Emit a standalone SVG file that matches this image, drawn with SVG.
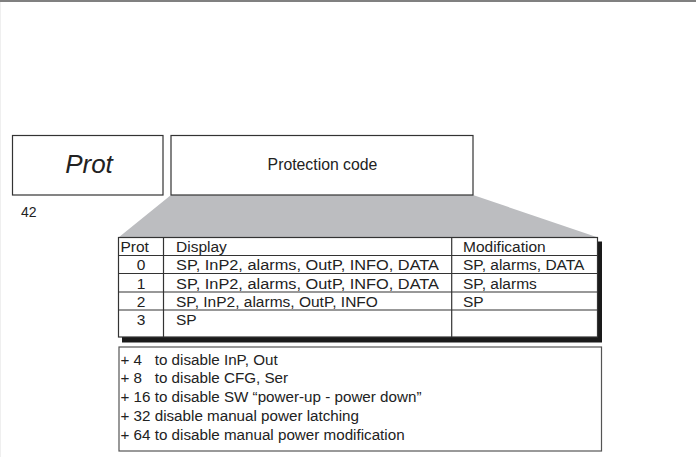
<svg xmlns="http://www.w3.org/2000/svg" width="696" height="457" viewBox="0 0 696 457">
<style>
text{font-family:"Liberation Sans",Arial,sans-serif;fill:#222;}
.box{fill:#fff;stroke:#333;stroke-width:1.2;}
.t{font-size:15.5px;}
.n{font-size:15.5px;text-anchor:middle;}
.ln{stroke:#333;stroke-width:1.2;fill:none;}
.ft{font-size:15.2px;}
</style>
<rect x="0" y="0" width="696" height="457" fill="#fff"/>
<rect x="0" y="0" width="696" height="2" fill="#808080"/>
<line x1="0.5" y1="2" x2="0.5" y2="457" stroke="#efefef" stroke-width="1"/>

<g id="connectors">
<polygon points="171,195 473,195 598,237.5 118.5,237.5" fill="#bcbdc0"/>
</g>

<g id="node-prot">
<rect class="box" x="12.5" y="135.5" width="150.5" height="59.5"/>
<text x="89" y="172.5" font-size="26" font-style="italic" text-anchor="middle">Prot</text>
</g>

<g id="node-protection-code">
<rect class="box" x="171" y="135.5" width="302" height="59.5"/>
<text x="322.5" y="170" font-size="15.8" text-anchor="middle">Protection code</text>
</g>

<g id="label-42">
<text x="21" y="217" font-size="14">42</text>
</g>

<g id="node-table">
<rect x="122" y="241.5" width="480" height="101" fill="#1a1a1a"/>
<rect class="box" x="118.5" y="237.5" width="479" height="99.5"/>
<line class="ln" x1="163.5" y1="237.5" x2="163.5" y2="337"/>
<line class="ln" x1="451.7" y1="237.5" x2="451.7" y2="337"/>
<line class="ln" x1="118.5" y1="255.5" x2="597.5" y2="255.5"/>
<line class="ln" x1="118.5" y1="273.5" x2="597.5" y2="273.5"/>
<line class="ln" x1="118.5" y1="292" x2="597.5" y2="292"/>
<line class="ln" x1="118.5" y1="310" x2="597.5" y2="310"/>
<text class="t" x="120.5" y="251.5">Prot</text>
<text class="t" x="176" y="251.5">Display</text>
<text class="t" x="463" y="251.5">Modification</text>
<text class="n" x="141" y="270">0</text>
<text class="t" x="176" y="270" textLength="263" lengthAdjust="spacingAndGlyphs">SP, InP2, alarms, OutP, INFO, DATA</text>
<text class="t" x="463" y="270">SP, alarms, DATA</text>
<text class="n" x="141" y="288.5">1</text>
<text class="t" x="176" y="288.5" textLength="263" lengthAdjust="spacingAndGlyphs">SP, InP2, alarms, OutP, INFO, DATA</text>
<text class="t" x="463" y="288.5">SP, alarms</text>
<text class="n" x="141" y="306.5">2</text>
<text class="t" x="176" y="306.5">SP, InP2, alarms, OutP, INFO</text>
<text class="t" x="463" y="306.5">SP</text>
<text class="n" x="141" y="325">3</text>
<text class="t" x="176" y="325">SP</text>
</g>

<g id="node-notes">
<rect x="119" y="347" width="482.5" height="104" fill="#fff" stroke="#555" stroke-width="1.2"/>
<text class="ft" x="120.5" y="364.5" xml:space="preserve">+ 4   to disable InP, Out</text>
<text class="ft" x="120.5" y="383" xml:space="preserve">+ 8   to disable CFG, Ser</text>
<text class="ft" x="120.5" y="402">+ 16 to disable SW “power-up - power down”</text>
<text class="ft" x="120.5" y="420.5">+ 32 disable manual power latching</text>
<text class="ft" x="120.5" y="439.5">+ 64 to disable manual power modification</text>
</g>
</svg>
